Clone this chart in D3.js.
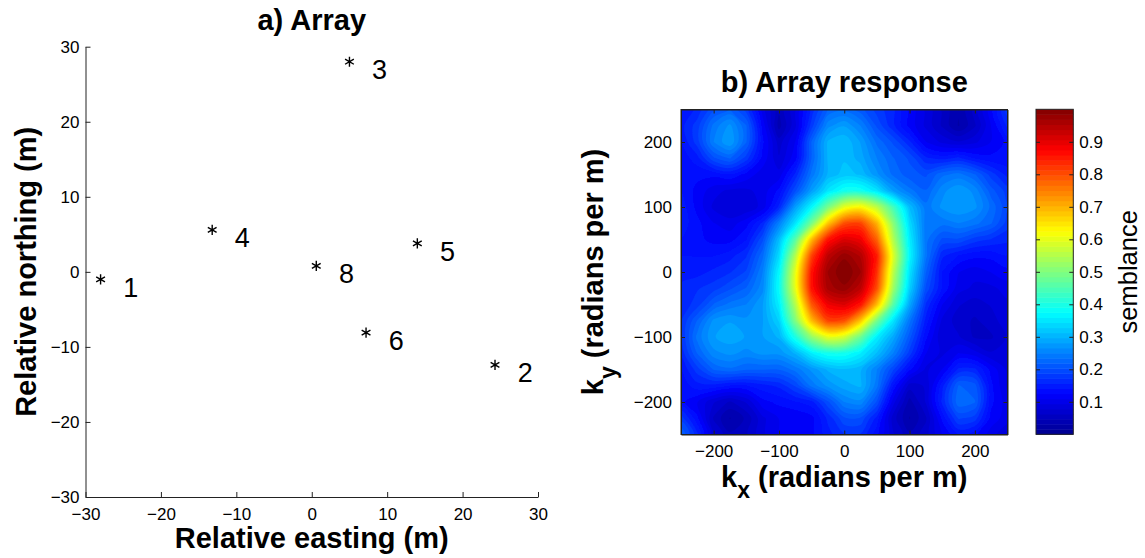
<!DOCTYPE html>
<html>
<head>
<meta charset="utf-8">
<script src="https://cdn.jsdelivr.net/npm/d3@7"></script>
<style>
  body { margin: 0; background: #fff; }
  svg { display: block; font-family: "Liberation Sans", Arial, Helvetica, sans-serif; }
</style>
</head>
<body>
<svg id="chart" width="1145" height="558"></svg>
<script>
// station layout, metres relative to station 8
const stationIds = [1, 2, 3, 4, 5, 6, 8];
const eastings   = [-28.0, 24.3, 5.0, -13.2, 14.0, 7.2, 0.6];
const northings  = [-1.0, -12.4, 28.0, 5.6, 3.8, -8.1, 0.8];
const arrayTicks = [-30, -20, -10, 0, 10, 20, 30];

// wavenumber grid (radians per m)
const kxGrid = [-250, -225, -200, -175, -150, -125, -100, -75, -50, -25, 0,
                25, 50, 75, 100, 125, 150, 175, 200, 225, 250];
const kyGrid = [250, 225, 200, 175, 150, 125, 100, 75, 50, 25, 0,
                -25, -50, -75, -100, -125, -150, -175, -200, -225, -250];
const kTicks = [-200, -100, 0, 100, 200];

// semblance, one row per ky (top row ky = 250), columns follow kxGrid
const semblance = [
  [0.14,0.16,0.20,0.22,0.18,0.10,0.05,0.09,0.16,0.22,0.23,0.21,0.18,0.16,0.12,0.09,0.06,0.03,0.07,0.12,0.18],
  [0.15,0.18,0.24,0.27,0.22,0.12,0.04,0.09,0.18,0.26,0.28,0.25,0.20,0.16,0.12,0.09,0.06,0.03,0.06,0.11,0.16],
  [0.14,0.18,0.25,0.28,0.22,0.13,0.07,0.11,0.22,0.30,0.31,0.28,0.23,0.20,0.16,0.11,0.09,0.08,0.09,0.11,0.13],
  [0.13,0.15,0.20,0.22,0.18,0.12,0.08,0.12,0.22,0.30,0.31,0.29,0.25,0.22,0.20,0.16,0.15,0.16,0.14,0.13,0.13],
  [0.13,0.13,0.13,0.14,0.12,0.10,0.10,0.16,0.24,0.30,0.32,0.31,0.27,0.23,0.21,0.20,0.23,0.24,0.22,0.18,0.15],
  [0.14,0.12,0.10,0.09,0.09,0.10,0.13,0.20,0.28,0.35,0.39,0.39,0.35,0.28,0.24,0.22,0.26,0.28,0.26,0.21,0.18],
  [0.15,0.12,0.09,0.08,0.08,0.10,0.16,0.28,0.37,0.49,0.60,0.63,0.56,0.44,0.31,0.24,0.27,0.28,0.27,0.23,0.19],
  [0.15,0.13,0.11,0.10,0.12,0.16,0.25,0.35,0.49,0.68,0.80,0.81,0.70,0.51,0.34,0.24,0.24,0.25,0.24,0.22,0.18],
  [0.14,0.13,0.12,0.12,0.14,0.20,0.31,0.46,0.69,0.86,0.91,0.89,0.78,0.55,0.36,0.24,0.20,0.20,0.18,0.17,0.16],
  [0.14,0.14,0.14,0.15,0.17,0.23,0.34,0.55,0.81,0.94,0.98,0.95,0.85,0.59,0.37,0.24,0.16,0.14,0.13,0.13,0.14],
  [0.15,0.15,0.16,0.17,0.19,0.25,0.37,0.60,0.86,0.97,1.00,0.97,0.83,0.56,0.35,0.22,0.14,0.11,0.10,0.11,0.12],
  [0.16,0.17,0.18,0.20,0.22,0.26,0.38,0.60,0.86,0.96,0.98,0.94,0.80,0.53,0.33,0.20,0.14,0.10,0.09,0.09,0.10],
  [0.16,0.18,0.22,0.24,0.25,0.28,0.36,0.55,0.79,0.89,0.91,0.86,0.69,0.46,0.29,0.17,0.11,0.08,0.07,0.08,0.09],
  [0.17,0.22,0.27,0.28,0.27,0.28,0.33,0.50,0.69,0.81,0.80,0.68,0.49,0.35,0.24,0.15,0.09,0.07,0.06,0.07,0.09],
  [0.17,0.24,0.28,0.29,0.28,0.28,0.30,0.40,0.52,0.60,0.58,0.48,0.36,0.29,0.21,0.13,0.08,0.08,0.06,0.06,0.08],
  [0.16,0.22,0.26,0.27,0.26,0.27,0.27,0.30,0.36,0.39,0.39,0.36,0.31,0.25,0.18,0.11,0.09,0.11,0.10,0.08,0.09],
  [0.14,0.18,0.22,0.23,0.22,0.22,0.22,0.24,0.27,0.30,0.31,0.30,0.25,0.19,0.13,0.09,0.11,0.16,0.16,0.12,0.09],
  [0.13,0.15,0.15,0.14,0.14,0.15,0.16,0.19,0.24,0.27,0.29,0.30,0.24,0.14,0.07,0.08,0.15,0.22,0.21,0.13,0.09],
  [0.13,0.11,0.08,0.06,0.08,0.12,0.13,0.14,0.15,0.20,0.25,0.26,0.20,0.10,0.04,0.08,0.16,0.23,0.22,0.13,0.10],
  [0.18,0.13,0.06,0.03,0.05,0.09,0.11,0.11,0.12,0.16,0.20,0.20,0.15,0.07,0.03,0.06,0.13,0.19,0.18,0.12,0.10],
  [0.22,0.16,0.08,0.05,0.06,0.09,0.11,0.11,0.12,0.15,0.17,0.17,0.13,0.08,0.05,0.07,0.11,0.14,0.13,0.10,0.08]
];
const semblanceTicks = [0.1, 0.2, 0.3, 0.4, 0.5, 0.6, 0.7, 0.8, 0.9];

const tickFont = 17;
const labelFont = 29;
const axisColor = "#222";

const svg = d3.select("#chart");
svg.append("rect").attr("width", 1145).attr("height", 558).attr("fill", "#fff");

function styleAxis(g) {
  g.attr("font-family", null).attr("font-size", tickFont);
  g.selectAll(".domain").attr("stroke", axisColor);
  g.selectAll(".tick line").attr("stroke", axisColor);
  g.selectAll(".tick text").attr("fill", "#000");
}

// ---------- a) Array ----------
const xA = d3.scaleLinear().domain([-30, 30]).range([85.5, 538]);
const yA = d3.scaleLinear().domain([-30, 30]).range([497, 46.7]);

svg.append("g")
  .attr("transform", `translate(0,${yA(-30)})`)
  .call(d3.axisBottom(xA).tickValues(arrayTicks).tickSizeInner(-5).tickSizeOuter(0).tickPadding(11))
  .call(styleAxis);

svg.append("g")
  .attr("transform", `translate(${xA(-30)},0)`)
  .call(d3.axisLeft(yA).tickValues(arrayTicks).tickSizeInner(-5).tickSizeOuter(0).tickPadding(6))
  .call(styleAxis);

const star = d3.symbol().type(d3.symbolAsterisk).size(72);
const stations = svg.append("g");
stationIds.forEach((id, i) => {
  stations.append("path")
    .attr("d", star)
    .attr("transform", `translate(${xA(eastings[i])},${yA(northings[i])})`)
    .attr("fill", "none")
    .attr("stroke", "#000")
    .attr("stroke-width", 1.4);
  // number sits 3 m east and 1 m south of its station
  stations.append("text")
    .attr("x", xA(eastings[i] + 3))
    .attr("y", yA(northings[i] - 1))
    .attr("dy", "0.36em")
    .attr("font-size", 27)
    .text(id);
});

svg.append("text")
  .attr("x", (xA(-30) + xA(30)) / 2).attr("y", 30)
  .attr("text-anchor", "middle").attr("font-weight", "bold").attr("font-size", labelFont)
  .text("a) Array");

svg.append("text")
  .attr("x", (xA(-30) + xA(30)) / 2).attr("y", 548)
  .attr("text-anchor", "middle").attr("font-weight", "bold").attr("font-size", labelFont)
  .text("Relative easting (m)");

svg.append("text")
  .attr("transform", `translate(36,${(yA(-30) + yA(30)) / 2}) rotate(-90)`)
  .attr("text-anchor", "middle").attr("font-weight", "bold").attr("font-size", labelFont)
  .text("Relative northing (m)");

// ---------- b) Array response ----------
const kx = d3.scaleLinear().domain([-250, 250]).range([681, 1007.5]);
const ky = d3.scaleLinear().domain([-250, 250]).range([434.5, 109.5]);

// jet colour map, 64 steps
const jet = d3.scaleLinear()
  .domain([0, 0.125, 0.375, 0.625, 0.875, 1])
  .range(["#00008f", "#0000ff", "#00ffff", "#ffff00", "#ff0000", "#800000"])
  .clamp(true);
const nColors = 64;
const levels = d3.range(1, nColors).map(i => i / nColors);

const nx = kxGrid.length, ny = kyGrid.length;
const flat = semblance.flat();
const bands = d3.contours().size([nx, ny]).thresholds(levels)(flat);

// grid index space -> wavenumber
const dkx = kxGrid[1] - kxGrid[0], dky = kyGrid[1] - kyGrid[0];
const ring = d3.line()
  .x(p => kx(kxGrid[0] + (p[0] - 0.5) * dkx))
  .y(p => ky(kyGrid[0] + (p[1] - 0.5) * dky))
  .curve(d3.curveCatmullRomClosed.alpha(0.5));

const defs = svg.append("defs");
defs.append("clipPath").attr("id", "mapClip")
  .append("rect")
  .attr("x", kx(-250)).attr("y", ky(250))
  .attr("width", kx(250) - kx(-250)).attr("height", ky(-250) - ky(250));
defs.append("filter").attr("id", "soft")
  .append("feGaussianBlur").attr("stdDeviation", 0.7);

const map = svg.append("g").attr("clip-path", "url(#mapClip)")
  .append("g").attr("filter", "url(#soft)");

map.append("rect")
  .attr("x", kx(-260)).attr("y", ky(260))
  .attr("width", kx(260) - kx(-260)).attr("height", ky(-260) - ky(260))
  .attr("fill", jet(0.5 / nColors));

map.selectAll("path.band")
  .data(bands)
  .join("path")
  .attr("class", "band")
  .attr("fill", d => jet(d.value + 0.5 / nColors))
  .attr("d", d => d.coordinates
    .map(poly => poly.map(r => ring(r.slice(0, -1))).join(""))
    .join(""));

svg.append("g")
  .attr("transform", `translate(0,${ky(-250)})`)
  .call(d3.axisBottom(kx).tickValues(kTicks).tickSizeInner(-4).tickSizeOuter(0).tickPadding(10))
  .call(styleAxis);
svg.append("g")
  .attr("transform", `translate(0,${ky(250)})`)
  .call(d3.axisTop(kx).tickValues(kTicks).tickSizeInner(-4).tickSizeOuter(0).tickFormat(""))
  .call(styleAxis);
svg.append("g")
  .attr("transform", `translate(${kx(-250)},0)`)
  .call(d3.axisLeft(ky).tickValues(kTicks).tickSizeInner(-4).tickSizeOuter(0).tickPadding(9))
  .call(styleAxis);
svg.append("g")
  .attr("transform", `translate(${kx(250)},0)`)
  .call(d3.axisRight(ky).tickValues(kTicks).tickSizeInner(-4).tickSizeOuter(0).tickFormat(""))
  .call(styleAxis);

svg.append("rect")
  .attr("x", kx(-250)).attr("y", ky(250))
  .attr("width", kx(250) - kx(-250)).attr("height", ky(-250) - ky(250))
  .attr("fill", "none").attr("stroke", axisColor);

svg.append("text")
  .attr("x", kx(0)).attr("y", 92)
  .attr("text-anchor", "middle").attr("font-weight", "bold").attr("font-size", labelFont)
  .text("b) Array response");

const kxLabel = svg.append("text")
  .attr("x", kx(0)).attr("y", 487)
  .attr("text-anchor", "middle").attr("font-weight", "bold").attr("font-size", labelFont);
kxLabel.append("tspan").text("k");
kxLabel.append("tspan").attr("dy", 11).attr("font-size", 23).text("x");
kxLabel.append("tspan").attr("dy", -11).text(" (radians per m)");

const kyLabel = svg.append("text")
  .attr("transform", `translate(603,${ky(0)}) rotate(-90)`)
  .attr("text-anchor", "middle").attr("font-weight", "bold").attr("font-size", labelFont);
kyLabel.append("tspan").text("k");
kyLabel.append("tspan").attr("dy", 13).attr("font-size", 23).text("y");
kyLabel.append("tspan").attr("dy", -13).text(" (radians per m)");

// ---------- colour bar ----------
const cb = d3.scaleLinear().domain([0, 1]).range([434.3, 109.3]);
const cbLeft = 1036, cbRight = 1073.3;

svg.append("g").selectAll("rect")
  .data(d3.range(nColors))
  .join("rect")
  .attr("x", cbLeft)
  .attr("y", i => cb((i + 1) / nColors))
  .attr("width", cbRight - cbLeft)
  .attr("height", i => cb(i / nColors) - cb((i + 1) / nColors) + 0.5)
  .attr("fill", i => jet((i + 0.5) / nColors));

svg.append("g")
  .attr("transform", `translate(${cbRight},0)`)
  .call(d3.axisRight(cb).tickValues(semblanceTicks).tickSizeInner(-4).tickSizeOuter(0)
    .tickPadding(6).tickFormat(d3.format(".1f")))
  .call(styleAxis)
  .call(g => g.select(".domain").remove());
svg.append("g")
  .attr("transform", `translate(${cbLeft},0)`)
  .call(d3.axisLeft(cb).tickValues(semblanceTicks).tickSizeInner(-4).tickSizeOuter(0).tickFormat(""))
  .call(styleAxis)
  .call(g => g.select(".domain").remove());

svg.append("rect")
  .attr("x", cbLeft).attr("y", cb(1))
  .attr("width", cbRight - cbLeft).attr("height", cb(0) - cb(1))
  .attr("fill", "none").attr("stroke", axisColor);

svg.append("text")
  .attr("transform", `translate(1137,${cb(0.5)}) rotate(-90)`)
  .attr("text-anchor", "middle").attr("font-size", 25.5)
  .text("semblance");
</script>
</body>
</html>
